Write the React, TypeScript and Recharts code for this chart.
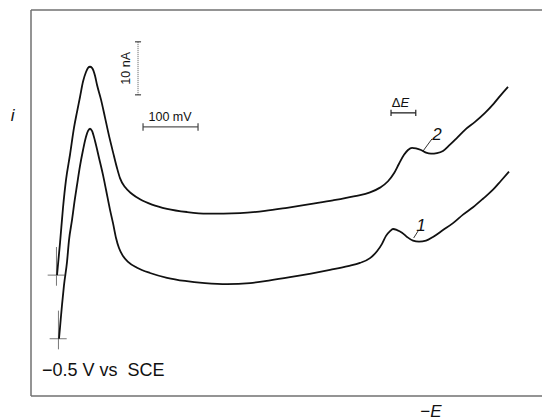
import React from "react";
import { LineChart, Line, XAxis, YAxis, ReferenceLine, ReferenceDot } from "recharts";

// x = -E in mV (scan starts at -0.5 V vs SCE), y = i in nA measured from the frame bottom
const curve1E = [503.6, 505.5, 509.1, 512.7, 518.2, 521.8, 527.3, 530.9, 536.4, 541.8, 547.3, 552.7, 556.4, 560, 563.6, 569.1, 576.4, 583.6, 589.1, 596.4, 601.8, 607.3, 612.7, 620, 629.1, 645.5, 669.1, 700, 732.7, 769.1, 809.1, 850.9, 887.3, 923.6, 961.8, 996.4, 1029.1, 1050.9, 1069.1, 1081.8, 1090.9, 1098.2, 1105.5, 1110.9, 1118.2, 1127.3, 1136.4, 1147.3, 1158.2, 1170.9, 1183.6, 1201.8, 1220, 1238.2, 1256.4, 1274.5, 1292.7, 1307.3, 1321.8];
const curve1I = [10.8, 13.0, 17.2, 20.9, 25.3, 29.4, 33.2, 36.0, 39.8, 43.4, 46.4, 48.9, 50.0, 50.4, 50.0, 48.1, 44.9, 41.7, 38.9, 35.1, 32.6, 29.8, 27.9, 26.4, 25.3, 24.2, 23.2, 22.3, 21.7, 21.3, 21.1, 21.3, 21.8, 22.4, 23.1, 23.8, 24.5, 25.1, 26.0, 27.3, 28.7, 30.2, 31.1, 31.5, 31.3, 30.8, 30.0, 29.3, 29.1, 29.3, 30.0, 31.3, 32.6, 34.2, 35.6, 37.2, 38.9, 40.6, 42.3];

const curve2E = [500, 505.5, 510.9, 516.4, 523.6, 530.9, 536.4, 541.8, 547.3, 552.7, 556.4, 560, 563.6, 569.1, 572.7, 580, 587.3, 594.5, 601.8, 609.1, 614.5, 623.6, 636.4, 650.9, 672.7, 700, 736.4, 772.7, 832.7, 878.2, 918.2, 960, 1001.8, 1041.8, 1069.1, 1087.3, 1101.8, 1112.7, 1121.8, 1130.9, 1138.2, 1145.5, 1152.7, 1161.8, 1170.9, 1180, 1190.9, 1201.8, 1214.5, 1227.3, 1241.8, 1260, 1278.2, 1294.5, 1307.3, 1320];
const curve2I = [22.8, 28.9, 35.5, 40.8, 45.5, 50.6, 53.6, 56.4, 59.3, 61.1, 61.9, 62.1, 61.9, 60.4, 58.7, 55.9, 52.5, 49.1, 46.0, 43.0, 41.1, 39.4, 38.1, 37.1, 36.1, 35.3, 34.7, 34.4, 34.5, 34.9, 35.5, 36.2, 36.9, 37.7, 38.4, 39.3, 40.5, 42.0, 43.8, 45.5, 46.4, 46.8, 46.7, 46.4, 45.9, 45.7, 45.8, 46.2, 47.4, 48.7, 50.2, 51.7, 53.4, 55.2, 56.8, 58.3];

// scale bars
const currentBar = 10; // nA
const potentialBar = 100; // mV
const deltaEBar = 45; // mV

const X_MIN = 452.7;
const X_MAX = 1381.8;
const Y_MIN = 0;
const Y_MAX = 72.8;

const FONT = '"Liberation Sans", Arial, sans-serif';
const FRAME = "#707070";
const INK = "#111";

const toPoints = (xs: number[], ys: number[]) => xs.map((x, i) => ({ x, y: ys[i] }));
const curve1 = toPoints(curve1E, curve1I);
const curve2 = toPoints(curve2E, curve2I);

// label renderer for ReferenceDot: text baseline sits on the dot
const tag = (children: React.ReactNode, opts: any = {}) => (props: any) => {
  const vb = props.viewBox;
  const x = vb.x + vb.width / 2;
  const y = vb.y + vb.height / 2;
  const { rotate, ...rest } = opts;
  return (
    <text
      x={x}
      y={y}
      fill={INK}
      fontFamily={FONT}
      textAnchor="middle"
      transform={rotate ? `rotate(${rotate} ${x} ${y})` : undefined}
      style={{ whiteSpace: "pre" }}
      {...rest}
    >
      {children}
    </text>
  );
};

const App = () => {
  const crosses = [curve1[0], curve2[0]];
  const barX = 647.3;
  const barY = 56.8;
  const mvX = 656.4;
  const mvY = 50.75;
  const deX = 1107.3;
  const deY = 53.4;

  return (
    <div style={{ position: "absolute", left: 0, top: 0, width: 542, height: 420, background: "#fff" }}>
      <LineChart width={542} height={420} margin={{ top: 10, right: 0, bottom: 24, left: 31 }}>
        <XAxis type="number" dataKey="x" domain={[X_MIN, X_MAX]} allowDataOverflow hide />
        <YAxis type="number" dataKey="y" domain={[Y_MIN, Y_MAX]} allowDataOverflow hide />

        {/* frame */}
        <ReferenceLine x={X_MIN} stroke={FRAME} strokeWidth={1.5} ifOverflow="visible" />
        <ReferenceLine y={Y_MAX} stroke={FRAME} strokeWidth={1.5} ifOverflow="visible" />
        <ReferenceLine y={Y_MIN} stroke={FRAME} strokeWidth={1.5} ifOverflow="visible" />

        {/* start marks */}
        {crosses.map((p, i) => (
          <ReferenceLine
            key={`h${i}`}
            segment={[{ x: p.x - 17, y: p.y }, { x: p.x + 14, y: p.y }]}
            stroke="#777"
            strokeWidth={1}
            ifOverflow="visible"
          />
        ))}
        {crosses.map((p, i) => (
          <ReferenceLine
            key={`v${i}`}
            segment={[{ x: p.x - 1, y: p.y - 2 }, { x: p.x - 1, y: p.y + 5.3 }]}
            stroke="#777"
            strokeWidth={1}
            ifOverflow="visible"
          />
        ))}

        {/* 10 nA bar */}
        <ReferenceLine segment={[{ x: barX, y: barY }, { x: barX, y: barY + currentBar }]} stroke="#555" strokeWidth={1} strokeDasharray="1 1" />
        <ReferenceLine segment={[{ x: barX - 5.5, y: barY }, { x: barX + 5.5, y: barY }]} stroke="#444" strokeWidth={1.2} />
        <ReferenceLine segment={[{ x: barX - 5.5, y: barY + currentBar }, { x: barX + 5.5, y: barY + currentBar }]} stroke="#444" strokeWidth={1.2} />

        {/* 100 mV bar */}
        <ReferenceLine segment={[{ x: mvX, y: mvY }, { x: mvX + potentialBar, y: mvY }]} stroke="#555" strokeWidth={1.3} />
        <ReferenceLine segment={[{ x: mvX, y: mvY - 0.7 }, { x: mvX, y: mvY + 0.7 }]} stroke="#444" strokeWidth={1.2} />
        <ReferenceLine segment={[{ x: mvX + potentialBar, y: mvY - 0.7 }, { x: mvX + potentialBar, y: mvY + 0.7 }]} stroke="#444" strokeWidth={1.2} />

        {/* delta E bar */}
        <ReferenceLine segment={[{ x: deX, y: deY }, { x: deX + deltaEBar, y: deY }]} stroke="#222" strokeWidth={1.3} />
        <ReferenceLine segment={[{ x: deX, y: deY - 0.6 }, { x: deX, y: deY + 0.6 }]} stroke="#222" strokeWidth={1.2} />
        <ReferenceLine segment={[{ x: deX + deltaEBar, y: deY - 0.6 }, { x: deX + deltaEBar, y: deY + 0.6 }]} stroke="#222" strokeWidth={1.2} />

        {/* curve labels leaders */}
        <ReferenceLine segment={[{ x: 1165.5, y: 46.2 }, { x: 1181.8, y: 48.5 }]} stroke="#333" strokeWidth={1} />
        <ReferenceLine segment={[{ x: 1148.5, y: 29.8 }, { x: 1156.4, y: 31.1 }]} stroke="#333" strokeWidth={1} />

        <Line data={curve1} dataKey="y" type="monotone" stroke={INK} strokeWidth={1.8} dot={false} isAnimationActive={false} />
        <Line data={curve2} dataKey="y" type="monotone" stroke={INK} strokeWidth={1.8} dot={false} isAnimationActive={false} />

        {/* texts */}
        <ReferenceDot x={419.1} y={51.9} r={1} fill="none" stroke="none" ifOverflow="visible"
          label={tag("i", { fontSize: 17, fontStyle: "italic" })} />
        <ReferenceDot x={632.7} y={61.8} r={1} fill="none" stroke="none" ifOverflow="visible"
          label={tag("10 nA", { fontSize: 12.5, rotate: -90 })} />
        <ReferenceDot x={705.5} y={51.8} r={1} fill="none" stroke="none" ifOverflow="visible"
          label={tag("100 mV", { fontSize: 12.5 })} />
        <ReferenceDot x={1124.5} y={54.5} r={1} fill="none" stroke="none" ifOverflow="visible"
          label={tag(<><tspan>Δ</tspan><tspan fontStyle="italic">E</tspan></>, { fontSize: 13 })} />
        <ReferenceDot x={1190.9} y={48.3} r={1} fill="none" stroke="none" ifOverflow="visible"
          label={tag("2", { fontSize: 17, fontStyle: "italic" })} />
        <ReferenceDot x={1161.8} y={31.1} r={1} fill="none" stroke="none" ifOverflow="visible"
          label={tag("1", { fontSize: 17, fontStyle: "italic" })} />
        <ReferenceDot x={472.7} y={3.77} r={1} fill="none" stroke="none" ifOverflow="visible"
          label={tag("−0.5 V vs  SCE", { fontSize: 18, textAnchor: "start" })} />
        <ReferenceDot x={1180} y={-3.96} r={1} fill="none" stroke="none" ifOverflow="visible"
          label={tag(<><tspan>−</tspan><tspan fontStyle="italic">E</tspan></>, { fontSize: 17 })} />
      </LineChart>
    </div>
  );
};

export default App;
